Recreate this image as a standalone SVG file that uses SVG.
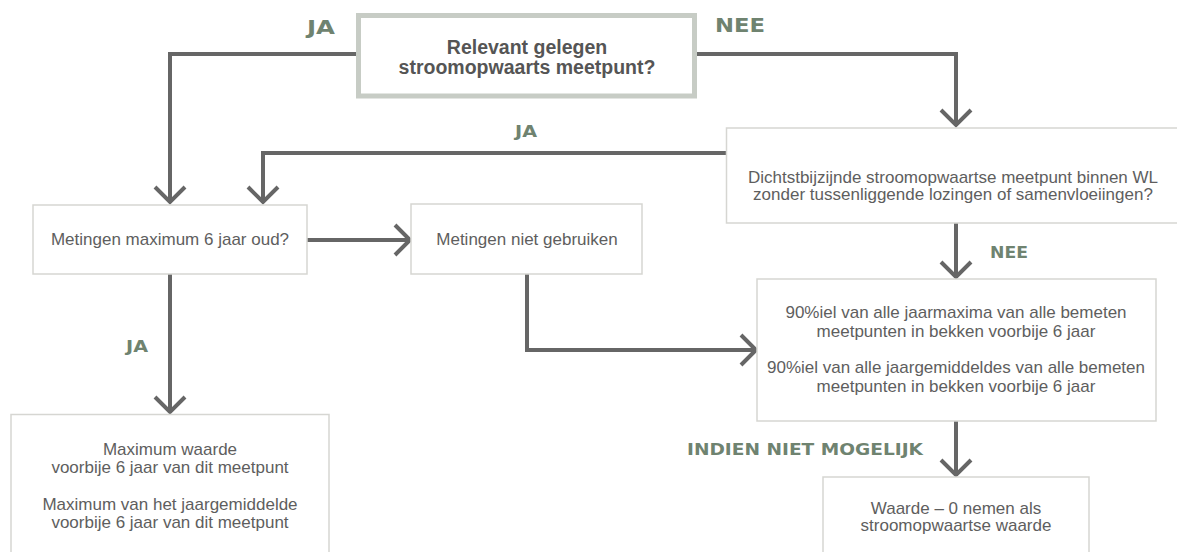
<svg xmlns="http://www.w3.org/2000/svg" width="1177" height="552" viewBox="0 0 1177 552">
<style>
.box{fill:#fff;stroke:#d6d6d2;stroke-width:1.5}
.title{fill:#fff;stroke:#c7ccc5;stroke-width:5}
.t{font-family:"Liberation Sans",Arial,sans-serif;font-size:17px;fill:#5e5e5e;text-anchor:middle}
.tb{font-family:"Liberation Sans",Arial,sans-serif;font-size:19.5px;font-weight:bold;fill:#555;text-anchor:middle}
.lbl{font-family:"DejaVu Sans","Liberation Sans",sans-serif;font-weight:bold;fill:#6f8370}
.c{fill:none;stroke:#666;stroke-width:4;stroke-linejoin:miter}
</style>
<defs>
<marker id="arr" markerUnits="userSpaceOnUse" markerWidth="40" markerHeight="40" viewBox="-20 -20 40 40" refX="0" refY="0" orient="auto" overflow="visible">
<path d="M-16,-15 L-1,0 L-16,15" fill="none" stroke="#666" stroke-width="4"/>
</marker>
</defs>
<rect width="1177" height="552" fill="#fff"/>
<g id="connectors">
<path class="c" d="M358,54 H170 V203" marker-end="url(#arr)"/>
<path class="c" d="M697,54 H956 V126" marker-end="url(#arr)"/>
<path class="c" d="M726,153 H263 V203" marker-end="url(#arr)"/>
<path class="c" d="M307,240 H411" marker-end="url(#arr)"/>
<path class="c" d="M170,274 V413" marker-end="url(#arr)"/>
<path class="c" d="M527,274 V350 H757" marker-end="url(#arr)"/>
<path class="c" d="M956,223 V278" marker-end="url(#arr)"/>
<path class="c" d="M956,421 V476" marker-end="url(#arr)"/>
</g>
<g id="labels">
<text class="lbl" x="307" y="34" font-size="19" textLength="28" lengthAdjust="spacingAndGlyphs">JA</text>
<text class="lbl" x="715" y="32" font-size="19" textLength="50" lengthAdjust="spacingAndGlyphs">NEE</text>
<text class="lbl" x="515" y="137" font-size="15" textLength="22" lengthAdjust="spacingAndGlyphs">JA</text>
<text class="lbl" x="990" y="258" font-size="15" textLength="38" lengthAdjust="spacingAndGlyphs">NEE</text>
<text class="lbl" x="126" y="352" font-size="15" textLength="22" lengthAdjust="spacingAndGlyphs">JA</text>
<text class="lbl" x="687" y="455" font-size="15" textLength="236" lengthAdjust="spacingAndGlyphs">INDIEN NIET MOGELIJK</text>
</g>
<g id="n-start">
<rect class="title" x="358.5" y="15.5" width="336" height="80.5"/>
<text class="tb" x="527" y="54">Relevant gelegen</text>
<text class="tb" x="527" y="74">stroomopwaarts meetpunt?</text>
</g>
<g id="n-dichtst">
<rect class="box" x="726.5" y="128" width="460" height="95"/>
<text class="t" x="953" y="183">Dichtstbijzijnde stroomopwaartse meetpunt binnen WL</text>
<text class="t" x="953" y="200">zonder tussenliggende lozingen of samenvloeiingen?</text>
</g>
<g id="n-metingen">
<rect class="box" x="33" y="205" width="274" height="69"/>
<text class="t" x="170" y="245">Metingen maximum 6 jaar oud?</text>
</g>
<g id="n-niet">
<rect class="box" x="411" y="204" width="231" height="70"/>
<text class="t" x="527" y="245">Metingen niet gebruiken</text>
</g>
<g id="n-90">
<rect class="box" x="757" y="279" width="399" height="142"/>
<text class="t" x="956" y="318">90%iel van alle jaarmaxima van alle bemeten</text>
<text class="t" x="956" y="337">meetpunten in bekken voorbije 6 jaar</text>
<text class="t" x="956" y="373">90%iel van alle jaargemiddeldes van alle bemeten</text>
<text class="t" x="956" y="392">meetpunten in bekken voorbije 6 jaar</text>
</g>
<g id="n-max">
<rect class="box" x="11" y="414.5" width="318" height="150"/>
<text class="t" x="170" y="455">Maximum waarde</text>
<text class="t" x="170" y="473">voorbije 6 jaar van dit meetpunt</text>
<text class="t" x="170" y="510">Maximum van het jaargemiddelde</text>
<text class="t" x="170" y="528">voorbije 6 jaar van dit meetpunt</text>
</g>
<g id="n-waarde">
<rect class="box" x="823" y="477" width="266" height="90"/>
<text class="t" x="956" y="514">Waarde – 0 nemen als</text>
<text class="t" x="956" y="531">stroomopwaartse waarde</text>
</g>
</svg>
